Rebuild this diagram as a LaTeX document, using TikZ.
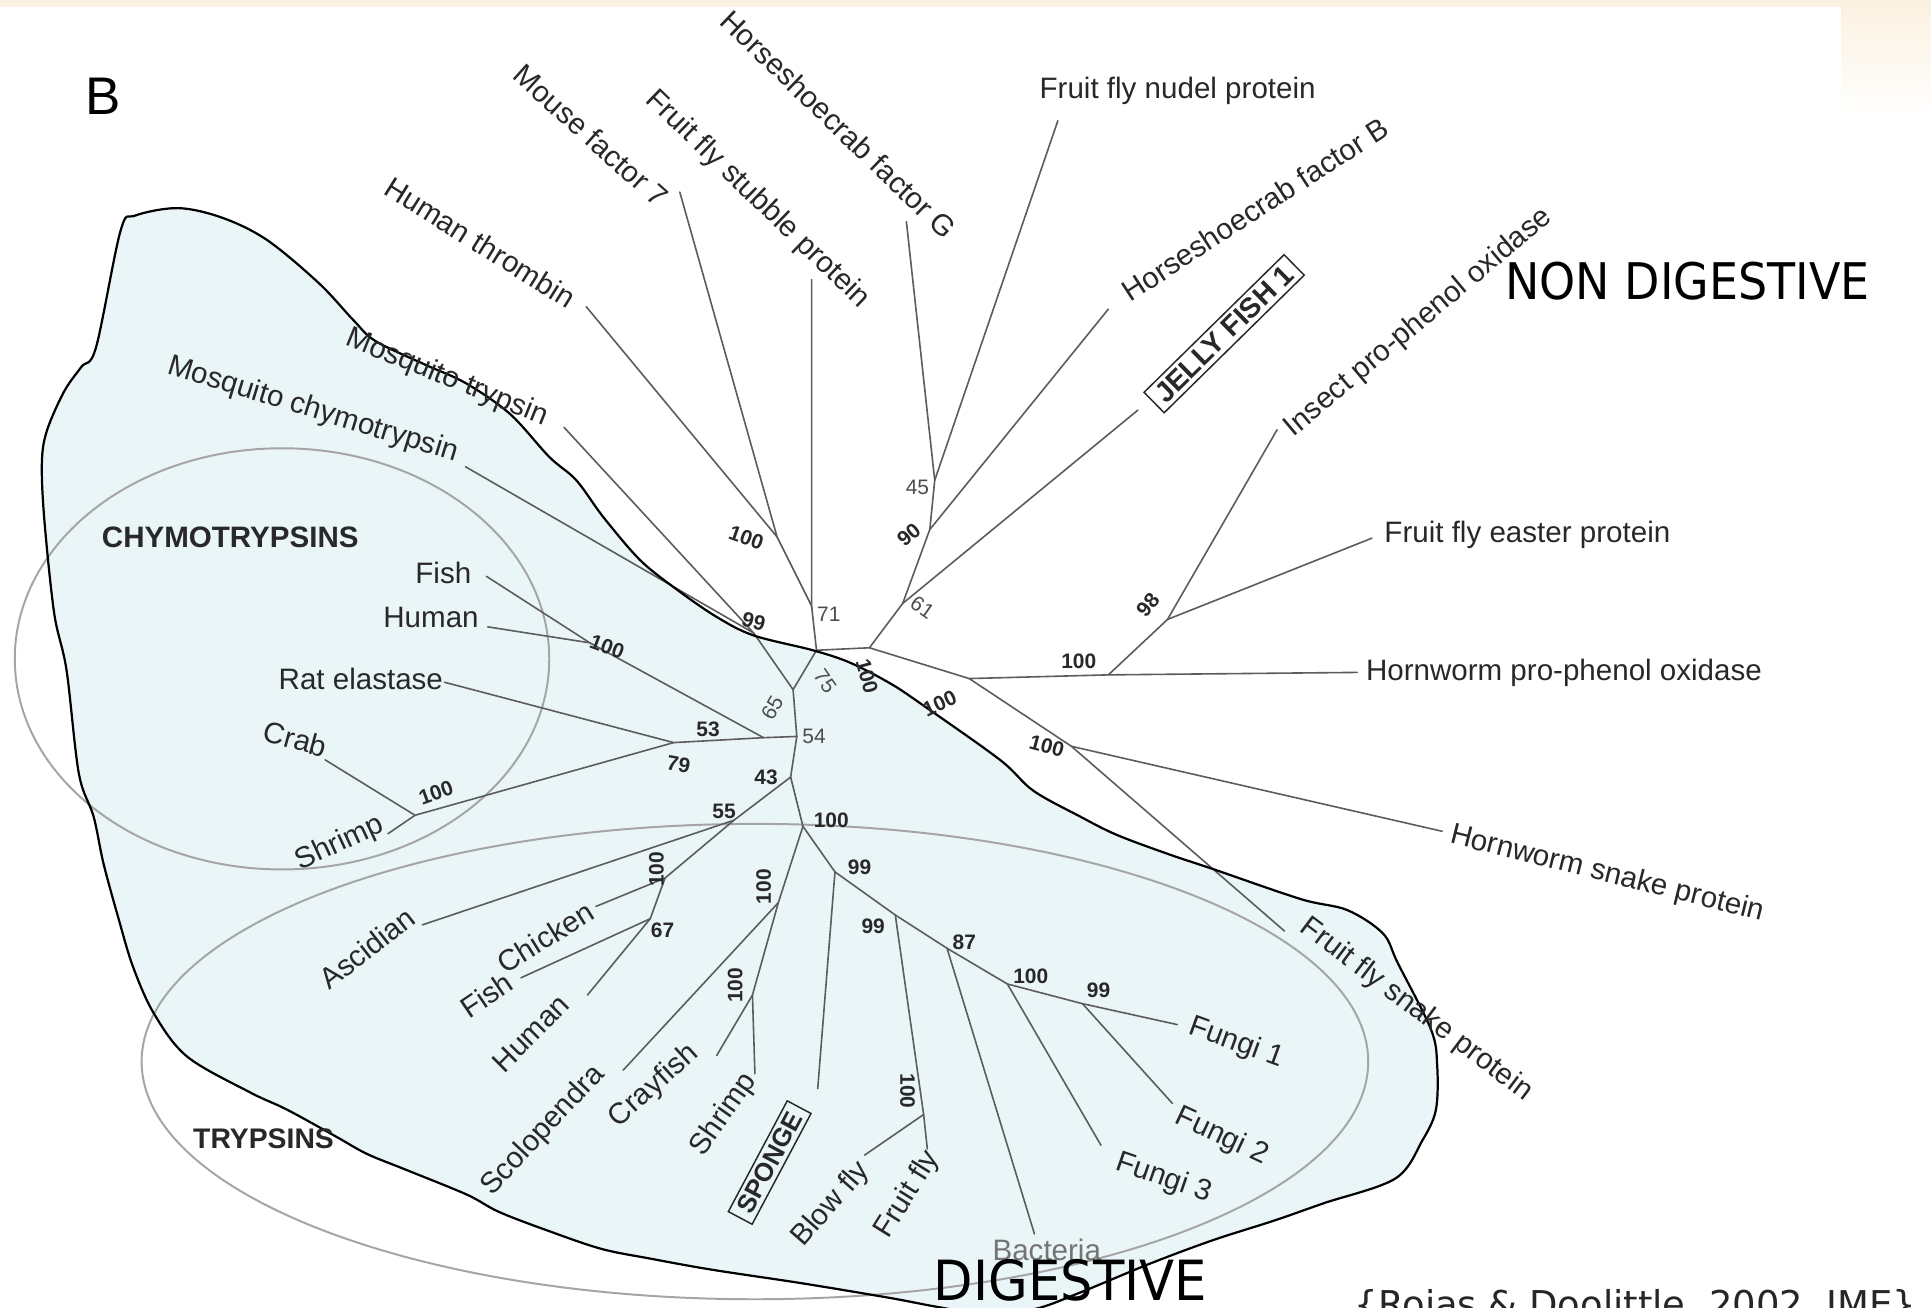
\documentclass[tikz,border=0pt]{standalone}
\usepackage{fontspec}
\setmainfont{Liberation Sans}
\newfontfamily\cartoon{DejaVu Sans}
\definecolor{treegray}{RGB}{92,92,92}
\definecolor{ringgray}{RGB}{165,165,165}
\definecolor{blobfill}{RGB}{234,245,247}
\definecolor{beige}{RGB}{251,241,224}
\definecolor{labelink}{RGB}{40,40,40}
\begin{document}
\begin{tikzpicture}[x=1pt,y=-1pt,
  branch/.style={draw=treegray, line width=1.3pt, line cap=round},
  leaf/.style={font=\fontsize{24}{26}\selectfont, inner sep=1pt, text=labelink},
  boot/.style={font=\fontsize{17}{18}\selectfont\bfseries, inner sep=0.5pt, text=labelink},
  bootlight/.style={font=\fontsize{17}{18}\selectfont, inner sep=0.5pt, text=black!70},
  group/.style={font=\fontsize{24}{26}\selectfont\bfseries, inner sep=1pt, text=labelink},
  boxed/.style={draw=labelink, line width=1.2pt, inner xsep=6pt, inner ysep=3.5pt, text=labelink},
  cladering/.style={draw=ringgray, line width=1.6pt},
  zone/.style={font=\cartoon, inner sep=0pt, anchor=base west, text depth=0pt},
]
\useasboundingbox (0,0) rectangle (1568,1062);
\clip (0,0) rectangle (1568,1062);

% page background and slide band
\fill[white] (0,0) rectangle (1568,1062);
\fill[beige] (0,0) rectangle (1568,6);
\shade[top color=beige, bottom color=white] (1495,0) rectangle (1568,95);

% digestive region
\fill[blobfill] plot[smooth cycle, tension=0.55] coordinates {
 (145,169) (181,177) (217,195) (259,230) (287,260) (305,277) (345,296)
 (378,311) (414,336) (446,371) (468,390) (490,420) (520,455) (550,479)
 (582,501) (612,516) (660,528) (690,538) (723,555) (750,573) (812,617)
 (839,642) (877,663) (907,678) (950,694) (983,705) (1056,730) (1094,739)
 (1123,758) (1135,782) (1162,836) (1167,865) (1166,901) (1155,926)
 (1133,957) (1075,977) (1035,991) (985,1007) (934,1026) (876,1050)
 (840,1063) (800,1067) (760,1061) (723,1054) (651,1042) (578,1031)
 (528,1022) (488,1014) (444,999) (405,984) (379,970) (330,950) (298,937)
 (273,923) (233,901) (203,887) (152,858) (125,823) (108,785) (96,745)
 (84,701) (76,663) (64,628) (54,544) (44,498) (36,422) (34,376) (38,350)
 (52,318) (66,298) (78,282) (98,187) (110,175)};

% clade rings
\draw[cladering] (229,535) ellipse [x radius=217, y radius=171];
\draw[cladering] (613,862) ellipse [x radius=498, y radius=193];

% internal nodes
\coordinate (n100t) at (631,436);
\coordinate (n71) at (659,492);
\coordinate (nA) at (663,528);
\coordinate (n99) at (612,514);
\coordinate (nB) at (644,560);
\coordinate (nC) at (647,598);
\coordinate (nP) at (620,599);
\coordinate (n53) at (547,603);
\coordinate (n100fh) at (479,522);
\coordinate (n100cs) at (337,662);
\coordinate (n43) at (642,631);
\coordinate (n55) at (596,666);
\coordinate (n100c) at (540,713);
\coordinate (n67) at (528,746);
\coordinate (n100b) at (652,671);
\coordinate (n100x) at (632,733);
\coordinate (n100y) at (611,808);
\coordinate (n99a) at (678,708);
\coordinate (n99b) at (727,743);
\coordinate (n100bf) at (750,905);
\coordinate (n87) at (769,770);
\coordinate (n100f) at (818,799);
\coordinate (n99f) at (879,815);
\coordinate (nD) at (706,526);
\coordinate (n61) at (733,490);
\coordinate (n90) at (755,430);
\coordinate (n45) at (759,390);
\coordinate (nE) at (787,551);
\coordinate (n100h) at (900,548);
\coordinate (n98) at (948,503);
\coordinate (n100s) at (870,606);

% leaf ends
\coordinate (eThrombin) at (476,249);
\coordinate (eMouse) at (552,156);
\coordinate (eStubble) at (659,227);
\coordinate (eHcG) at (736,180);
\coordinate (eNudel) at (859,98);
\coordinate (eHcB) at (900,251);
\coordinate (eJelly) at (924,333);
\coordinate (eInsect) at (1037,349);
\coordinate (eEaster) at (1114,437);
\coordinate (eHwPpo) at (1102,546);
\coordinate (eHwSnake) at (1171,675);
\coordinate (eFfSnake) at (1043,756);
\coordinate (eMosqT) at (458,347);
\coordinate (eMosqC) at (378,379);
\coordinate (eFishC) at (395,468);
\coordinate (eHumanC) at (396,509);
\coordinate (eRat) at (361,554);
\coordinate (eCrab) at (264,617);
\coordinate (eShrimpC) at (315,677);
\coordinate (eAscidian) at (343,751);
\coordinate (eChicken) at (484,736);
\coordinate (eFishT) at (423,794);
\coordinate (eHumanT) at (477,808);
\coordinate (eScolo) at (506,869);
\coordinate (eCray) at (582,857);
\coordinate (eShrimpT) at (613,872);
\coordinate (eSponge) at (664,884);
\coordinate (eBlow) at (702,938);
\coordinate (eFruit) at (753,933);
\coordinate (eBact) at (840,1002);
\coordinate (eFungi3) at (894,930);
\coordinate (eFungi2) at (952,896);
\coordinate (eFungi1) at (956,832);

% branches
\draw[branch] (eThrombin) -- (n100t) -- (eMouse);
\draw[branch] (n100t) -- (n71) -- (eStubble);
\draw[branch] (n71) -- (nA) -- (nB) -- (n99) -- (eMosqT);
\draw[branch] (n99) -- (eMosqC);
\draw[branch] (nB) -- (nC) -- (nP) -- (n53) -- (eRat);
\draw[branch] (nP) -- (n100fh) -- (eFishC);
\draw[branch] (n100fh) -- (eHumanC);
\draw[branch] (n53) -- (n100cs) -- (eCrab);
\draw[branch] (n100cs) -- (eShrimpC);
\draw[branch] (nC) -- (n43) -- (n55) -- (eAscidian);
\draw[branch] (n55) -- (n100c) -- (eChicken);
\draw[branch] (n100c) -- (n67) -- (eFishT);
\draw[branch] (n67) -- (eHumanT);
\draw[branch] (n43) -- (n100b) -- (n100x) -- (eScolo);
\draw[branch] (n100x) -- (n100y) -- (eCray);
\draw[branch] (n100y) -- (eShrimpT);
\draw[branch] (n100b) -- (n99a) -- (eSponge);
\draw[branch] (n99a) -- (n99b) -- (n100bf) -- (eBlow);
\draw[branch] (n100bf) -- (eFruit);
\draw[branch] (n99b) -- (n87) -- (eBact);
\draw[branch] (n87) -- (n100f) -- (eFungi3);
\draw[branch] (n100f) -- (n99f) -- (eFungi1);
\draw[branch] (n99f) -- (eFungi2);
\draw[branch] (nA) -- (nD) -- (n61) -- (eJelly);
\draw[branch] (n61) -- (n90) -- (eHcB);
\draw[branch] (n90) -- (n45) -- (eHcG);
\draw[branch] (n45) -- (eNudel);
\draw[branch] (nD) -- (nE) -- (n100h) -- (eHwPpo);
\draw[branch] (n100h) -- (n98) -- (eInsect);
\draw[branch] (n98) -- (eEaster);
\draw[branch] (nE) -- (n100s) -- (eHwSnake);
\draw[branch] (n100s) -- (eFfSnake);

% region outline
\draw[black, line width=1.8pt] plot[smooth cycle, tension=0.55] coordinates {
 (145,169) (181,177) (217,195) (259,230) (287,260) (305,277) (345,296)
 (378,311) (414,336) (446,371) (468,390) (490,420) (520,455) (550,479)
 (582,501) (612,516) (660,528) (690,538) (723,555) (750,573) (812,617)
 (839,642) (877,663) (907,678) (950,694) (983,705) (1056,730) (1094,739)
 (1123,758) (1135,782) (1162,836) (1167,865) (1166,901) (1155,926)
 (1133,957) (1075,977) (1035,991) (985,1007) (934,1026) (876,1050)
 (840,1063) (800,1067) (760,1061) (723,1054) (651,1042) (578,1031)
 (528,1022) (488,1014) (444,999) (405,984) (379,970) (330,950) (298,937)
 (273,923) (233,901) (203,887) (152,858) (125,823) (108,785) (96,745)
 (84,701) (76,663) (64,628) (54,544) (44,498) (36,422) (34,376) (38,350)
 (52,318) (66,298) (78,282) (98,187) (110,175)};

% panel letter
\node[font=\fontsize{43}{44}\selectfont, inner sep=0pt] (panel) at (84,78) {B};

% leaf labels, upper fan
\node[leaf, rotate=-32] (tThrombin) at (390,197) {Human thrombin};
\node[leaf, rotate=-42] (tMouse) at (480,110) {Mouse factor 7};
\node[leaf, rotate=-44] (tStubble) at (615,162) {Fruit fly stubble protein};
\node[leaf, rotate=-44] (tHcG) at (681,101) {Horseshoecrab factor G};
\node[leaf, anchor=west] (tNudel) at (843,74) {Fruit fly nudel protein};
\node[leaf, rotate=33] (tHcB) at (1019,170) {Horseshoecrab factor B};
\node[boxed, rotate=44.5, font=\fontsize{23}{24}\selectfont\bfseries] (tJelly) at (994,271) {JELLY FISH 1};
\node[leaf, rotate=40] (tInsect) at (1152,262) {Insect pro-phenol oxidase};
\node[leaf, anchor=west] (tEaster) at (1123,434) {Fruit fly easter protein};
\node[leaf, anchor=west] (tHwPpo) at (1108,546) {Hornworm pro-phenol oxidase};
\node[leaf, rotate=-14] (tHwSnake) at (1305,710) {Hornworm snake protein};
\node[leaf, rotate=-37] (tFfSnake) at (1150,820) {Fruit fly snake protein};
\node[leaf, rotate=-22] (tMosqT) at (363,307) {Mosquito trypsin};
\node[leaf, rotate=-17] (tMosqC) at (254,333) {Mosquito chymotrypsin};

% chymotrypsin clade
\node[group] (tChymo) at (187,436) {CHYMOTRYPSINS};
\node[leaf] (tFishC) at (360,465) {Fish};
\node[leaf] (tHumanC) at (350,501) {Human};
\node[leaf] (tRat) at (293,551) {Rat elastase};
\node[leaf, rotate=-15] (tCrab) at (240,600) {Crab};
\node[leaf, rotate=25] (tShrimpC) at (276,685) {Shrimp};

% trypsin clade
\node[group, font=\fontsize{23}{25}\selectfont\bfseries] (tTryp) at (214,925) {TRYPSINS};
\node[leaf, rotate=38] (tAscidian) at (298,770) {Ascidian};
\node[leaf, rotate=32] (tChicken) at (443,761) {Chicken};
\node[leaf, rotate=34] (tFishT) at (395,808) {Fish};
\node[leaf, rotate=45] (tHumanT) at (431,839) {Human};
\node[leaf, rotate=47] (tScolo) at (441,918) {Scolopendra};
\node[leaf, rotate=42] (tCray) at (531,882) {Crayfish};
\node[leaf, rotate=55] (tShrimpT) at (588,905) {Shrimp};
\node[boxed, rotate=62, font=\fontsize{21}{22}\selectfont\bfseries] (tSponge) at (625,944) {SPONGE};
\node[leaf, rotate=49] (tBlow) at (675,978) {Blow fly};
\node[leaf, rotate=58] (tFruit) at (737,970) {Fruit fly};
\node[leaf, text=black!55] (tBact) at (850,1015) {Bacteria};
\node[leaf, rotate=-19] (tFungi3) at (945,957) {Fungi 3};
\node[leaf, rotate=-25] (tFungi2) at (992,923) {Fungi 2};
\node[leaf, rotate=-20] (tFungi1) at (1004,847) {Fungi 1};

% bootstrap values
\node[boot, rotate=-20] (b1) at (606,437) {100};
\node[bootlight] (b2) at (673,499) {71};
\node[boot, rotate=-15] (b3) at (612,505) {99};
\node[bootlight, rotate=60] (b4) at (627,575) {65};
\node[bootlight, rotate=-55] (b5) at (670,553) {75};
\node[bootlight] (b6) at (661,598) {54};
\node[boot] (b7) at (575,592) {53};
\node[boot, rotate=-10] (b8) at (551,621) {79};
\node[boot, rotate=-20] (b9) at (493,525) {100};
\node[boot, rotate=20] (b10) at (354,644) {100};
\node[boot] (b11) at (622,631) {43};
\node[boot] (b12) at (588,659) {55};
\node[boot] (b13) at (675,666) {100};
\node[boot, rotate=90] (b14) at (533,706) {100};
\node[boot] (b15) at (538,755) {67};
\node[boot] (b16) at (698,704) {99};
\node[boot, rotate=90] (b17) at (620,720) {100};
\node[boot, rotate=90] (b18) at (597,800) {100};
\node[boot] (b19) at (709,752) {99};
\node[boot, rotate=-90] (b20) at (737,886) {100};
\node[boot] (b21) at (783,765) {87};
\node[boot] (b22) at (837,793) {100};
\node[boot] (b23) at (892,804) {99};
\node[boot, rotate=-75] (b24) at (704,549) {100};
\node[bootlight, rotate=-35] (b25) at (749,493) {61};
\node[boot, rotate=40] (b26) at (738,434) {90};
\node[bootlight] (b27) at (745,396) {45};
\node[boot, rotate=50] (b28) at (932,491) {98};
\node[boot] (b29) at (876,537) {100};
\node[boot, rotate=25] (b30) at (763,571) {100};
\node[boot, rotate=-15] (b31) at (850,606) {100};

% zone captions
\node[zone, font=\cartoon\fontsize{41}{42}\selectfont] (nondig) at (1222,243) {\scalebox{0.91}[1]{NON DIGESTIVE}};
\node[zone, font=\cartoon\fontsize{45}{46}\selectfont] (dig) at (758,1056) {\scalebox{0.925}[1]{DIGESTIVE}};

% source, running off the lower edge
\node[zone, font=\cartoon\fontsize{30}{32}\selectfont, text=black!85] (cite) at (1100,1070) {\{Rojas \& Doolittle, 2002, JME\}};
\end{tikzpicture}
\end{document}
